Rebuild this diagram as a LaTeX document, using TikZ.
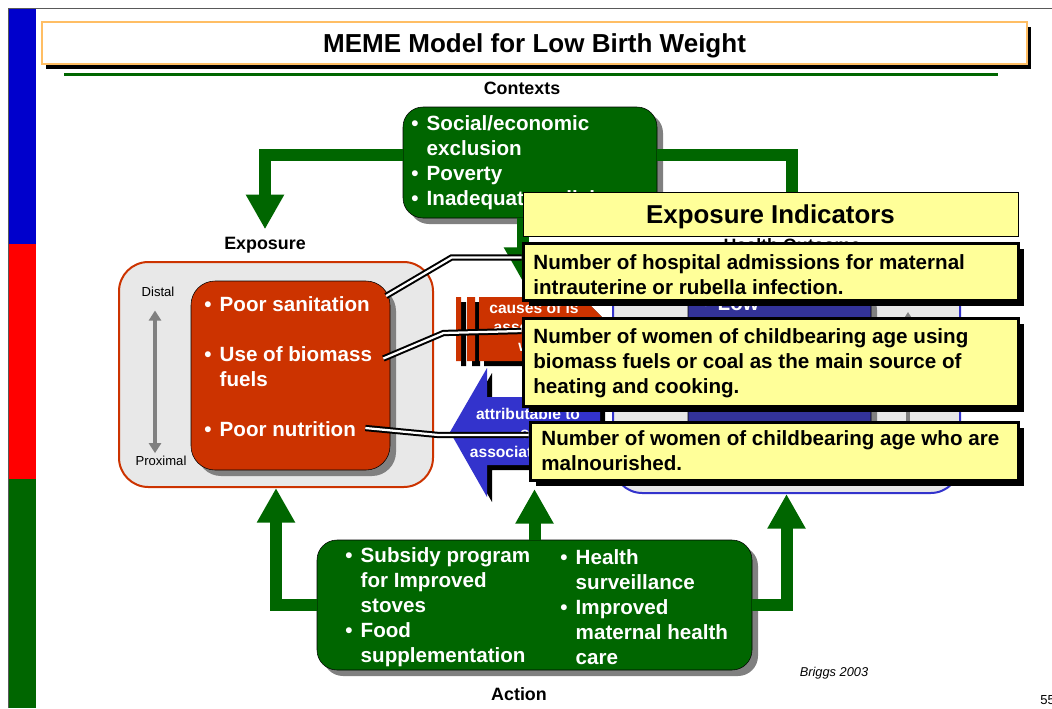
\documentclass[tikz,border=0pt]{standalone}
\usepackage{fontspec}
\setmainfont{Liberation Sans}
\usetikzlibrary{arrows,arrows.meta,shadows,positioning}

\definecolor{darkgreen}{RGB}{0,102,0}
\definecolor{barblue}{RGB}{0,0,204}
\definecolor{barred}{RGB}{255,0,0}
\definecolor{rust}{RGB}{204,51,0}
\definecolor{arrowblue}{RGB}{51,51,204}
\definecolor{lbwblue}{RGB}{51,51,153}
\definecolor{paleyellow}{RGB}{255,255,153}
\definecolor{paneltint}{RGB}{232,232,232}
\definecolor{titleorange}{RGB}{255,190,100}

\newcommand{\itemdot}{\makebox[11.5pt][l]{\textbullet}}
\newcommand{\itemgap}{\hspace*{11.5pt}}

\begin{document}
\begin{tikzpicture}[x=0.75pt,y=-0.75pt,semithick,
                    every node/.style={inner sep=0pt}]
  \tikzstyle{flow}=[draw=darkgreen,line width=9pt,-{Triangle[width=27pt,length=26pt]}]
  \tikzstyle{heading}=[font=\fontsize{13.4}{16}\selectfont\bfseries]
  \tikzstyle{bodytext}=[font=\fontsize{15.45}{18.75}\selectfont\bfseries,align=left]
  \tikzstyle{arrowtext}=[font=\fontsize{11.7}{14.25}\selectfont\bfseries,text=white,align=center]
  \tikzstyle{smalltext}=[font=\fontsize{9.8}{12}\selectfont]
  \tikzstyle{greenbox}=[draw=black,thin,fill=darkgreen,rounded corners=15pt,
                        drop shadow={shadow xshift=4.5pt,shadow yshift=-4.5pt,fill=gray,opacity=1}]
  \tikzstyle{panel}=[line width=1.5pt,fill=paneltint,rounded corners=22pt]
  \tikzstyle{core}=[draw=black,thin,rounded corners=18pt,
                    drop shadow={shadow xshift=4.5pt,shadow yshift=-4.5pt,fill=gray,opacity=1}]
  \tikzstyle{indicator}=[draw=black,line width=2.25pt,fill=paleyellow,minimum width=371.25pt,
                         drop shadow={shadow xshift=4.5pt,shadow yshift=-4.5pt,fill=black,opacity=1}]
  \tikzstyle{callout}=[draw=black,line width=1.5pt,double=white,double distance=1.7pt]
  \tikzstyle{updown}=[draw=gray,line width=3pt,
                      {Triangle[width=9pt,length=7.5pt]}-{Triangle[width=9pt,length=7.5pt]}]

  \useasboundingbox (0,0) rectangle (1052,708);

  % slide frame
  \fill[barblue] (9,8) rectangle (36,244);
  \fill[barred] (9,244) rectangle (36,479);
  \fill[darkgreen] (9,479) rectangle (36,708);
  \draw[gray!70!black,thin] (8,708) -- (8,8) -- (1052,8);

  \node[draw=titleorange,line width=1.1pt,fill=white,minimum width=738.75pt,minimum height=31.5pt,
        font=\fontsize{19.5}{23}\selectfont\bfseries,text depth=0pt,
        drop shadow={shadow xshift=3pt,shadow yshift=-3.75pt,fill=black,opacity=1}]
        (title) at (534.5,43) {MEME Model for Low Birth Weight};
  \draw[darkgreen,line width=2.25pt] (64,74) -- (998,74);

  \node[heading] (ctxlab) at (522,88)  {Contexts};
  \node[heading] (explab) at (265,245) {Exposure};
  \node[heading] (holab)  at (792,245) {Health Outcome};
  \node[heading] (actlab) at (519,694) {Action};

  % contexts
  \node[greenbox,minimum width=190.5pt,minimum height=83.25pt] (ctx) at (530,162.5) {};
  \node[bodytext,text=white,anchor=west] (ctxtext) at (411,162.5)
       {\itemdot Social/economic\\\itemgap exclusion\\\itemdot Poverty\\\itemdot Inadequate policies};

  % action
  \node[greenbox,minimum width=326.25pt,minimum height=97.5pt] (act) at (534.5,605) {};
  \node[bodytext,text=white,anchor=west] (actleft) at (345,607)
       {\itemdot Subsidy program\\\itemgap for Improved\\\itemgap stoves\\\itemdot Food\\\itemgap supplementation};
  \node[bodytext,text=white,anchor=west] (actright) at (560,607)
       {\itemdot Health\\\itemgap surveillance\\\itemdot Improved\\\itemgap maternal health\\\itemgap care};

  % exposure
  \node[panel,draw=rust,minimum width=235.5pt,minimum height=168.75pt] (expo) at (276,374.5) {};
  \node[core,fill=rust,minimum width=149.25pt,minimum height=141.75pt] (expocore) at (290.5,375.5) {};
  \node[bodytext,text=white,anchor=west] (sanit)   at (204,304)   {\itemdot Poor sanitation};
  \node[bodytext,text=white,anchor=west] (biomass) at (204,366.5) {\itemdot Use of biomass\\\itemgap fuels};
  \node[bodytext,text=white,anchor=west] (nutri)   at (204,429)   {\itemdot Poor nutrition};
  \node[smalltext] (distal)   at (158,292) {Distal};
  \node[smalltext] (proximal) at (161,461) {Proximal};
  \draw[updown,shorten <=10pt,shorten >=2pt] ([xshift=-2.25pt]distal.south) -- ([xshift=-4.5pt]proximal.north);

  % health outcome
  \node[panel,draw=arrowblue,minimum width=260.25pt,minimum height=173.25pt] (hout) at (786.5,377.5) {};
  \node[core,fill=lbwblue,minimum width=137.25pt,minimum height=142.5pt] (lbw) at (779.5,375) {};
  \node[bodytext,text=white,anchor=west] (lbwtext) at (702,318) {\itemdot Low\\\itemgap birth weight};
  \coordinate (rdistal) at (908,312);
  \coordinate (rproximal) at (908,450);
  \draw[updown] (rdistal) -- (rproximal);

  % flows
  \coordinate (redtop)  at (523,282);
  \coordinate (bluebot) at (534.5,489);
  \draw[flow] ([yshift=5.6pt]ctx.west) -| ([yshift=5.5pt]explab.north);
  \draw[flow] ([yshift=5.6pt]ctx.east) -| ([yshift=5.5pt]holab.north);
  \draw[flow] ([xshift=-5.25pt]ctx.south) -- (redtop);
  \draw[flow] (act.west) -| (expo.south);
  \draw[flow] (act.east) -| (hout.south);
  \draw[flow] (act.north) -- (bluebot);

  % causes / attributable arrows
  \foreach \off/\tone in {5/black,0/rust}
    \fill[\tone,shift={(\off,\off)}] (456,297) rectangle (461,361) (467,297) rectangle (475,361)
         (479,297) -- (582,297) -- (614,329) -- (582,361) -- (479,361) -- cycle;
  \node[arrowtext] (causes) at (534,327) {causes of is\\associated\\with};
  \foreach \off/\tone in {5/black,0/arrowblue}
    \fill[\tone,shift={(\off,\off)}] (450,432) -- (487,368) -- (487,397) -- (600,397)
         -- (600,465) -- (487,465) -- (487,497) -- cycle;
  \node[arrowtext] (attrib) at (528,433) {attributable to\\or\\associated with};

  % exposure indicators
  \node[draw=black,thin,fill=paleyellow,minimum width=371.25pt,minimum height=33pt,text depth=0pt,
        font=\fontsize{19.4}{23}\selectfont\bfseries] (indtitle) at (770.5,214) {Exposure Indicators};
  \node[indicator,minimum height=42.75pt] (hosp) at (770.5,271.5) {};
  \node[bodytext,anchor=west] (hosptext) at (533,274.5)
       {Number of hospital admissions for maternal\\intrauterine or rubella infection.};
  \node[indicator,minimum height=66pt] (biom) at (770.5,362) {};
  \node[bodytext,anchor=west] (biomtext) at (533,363)
       {Number of women of childbearing age using\\biomass fuels or coal as the main source of\\heating and cooking.};
  \node[indicator,minimum height=43.5pt,minimum width=366pt] (maln) at (774,451) {};
  \node[bodytext,anchor=west] (malntext) at (541,450.5)
       {Number of women of childbearing age who are\\malnourished.};

  \path[callout] ([yshift=10.5pt]hosp.west) -- ++(-70,0) -- ([shift={(16,-8)}]sanit.east);
  \path[callout] ([yshift=23.25pt]biom.west) -- ++(-78,2) -- ([shift={(11,-8)}]biomass.east);
  \path[callout] ([yshift=12pt]maln.west) -- ++(-90,0) -- ([shift={(9,-1)}]nutri.east);

  \node[smalltext,font=\fontsize{9.6}{12}\selectfont\itshape] (source) at (834,673) {Briggs 2003};
  \node[smalltext,anchor=west] (pageno) at (1040,700) {55};
\end{tikzpicture}
\end{document}
